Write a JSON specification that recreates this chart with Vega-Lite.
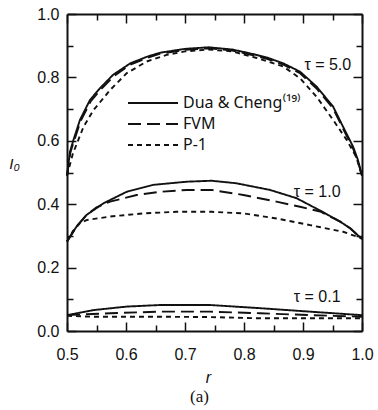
{
  "$schema": "https://vega.github.io/schema/vega-lite/v6.json",
  "width": 295,
  "height": 317,
  "autosize": {"type": "none"},
  "padding": {"left": 67, "top": 14, "right": 16, "bottom": 79},
  "background": "white",
  "title": {"text": "(a)", "orient": "bottom", "anchor": "middle", "dx": -15, "offset": 4, "font": "Liberation Serif", "fontSize": 17, "fontWeight": "normal", "color": "#111"},
  "config": {
    "view": {"stroke": null},
    "axis": {"grid": false, "domainColor": "#111", "tickColor": "#111", "labelColor": "#111", "titleColor": "#111", "labelFont": "Liberation Sans", "labelFontSize": 16, "titleFont": "Liberation Sans"}
  },
  "resolve": {"axis": {"x": "independent", "y": "independent"}},
  "data": {"values": [
    {"tau": "5.0", "method": "Dua & Cheng⁽¹⁹⁾", "r": 0.500, "I": 0.49},
    {"tau": "5.0", "method": "Dua & Cheng⁽¹⁹⁾", "r": 0.505, "I": 0.565},
    {"tau": "5.0", "method": "Dua & Cheng⁽¹⁹⁾", "r": 0.511, "I": 0.603},
    {"tau": "5.0", "method": "Dua & Cheng⁽¹⁹⁾", "r": 0.522, "I": 0.666},
    {"tau": "5.0", "method": "Dua & Cheng⁽¹⁹⁾", "r": 0.539, "I": 0.729},
    {"tau": "5.0", "method": "Dua & Cheng⁽¹⁹⁾", "r": 0.556, "I": 0.766},
    {"tau": "5.0", "method": "Dua & Cheng⁽¹⁹⁾", "r": 0.578, "I": 0.808},
    {"tau": "5.0", "method": "Dua & Cheng⁽¹⁹⁾", "r": 0.607, "I": 0.844},
    {"tau": "5.0", "method": "Dua & Cheng⁽¹⁹⁾", "r": 0.635, "I": 0.865},
    {"tau": "5.0", "method": "Dua & Cheng⁽¹⁹⁾", "r": 0.658, "I": 0.878},
    {"tau": "5.0", "method": "Dua & Cheng⁽¹⁹⁾", "r": 0.700, "I": 0.890},
    {"tau": "5.0", "method": "Dua & Cheng⁽¹⁹⁾", "r": 0.740, "I": 0.895},
    {"tau": "5.0", "method": "Dua & Cheng⁽¹⁹⁾", "r": 0.780, "I": 0.888},
    {"tau": "5.0", "method": "Dua & Cheng⁽¹⁹⁾", "r": 0.810, "I": 0.876},
    {"tau": "5.0", "method": "Dua & Cheng⁽¹⁹⁾", "r": 0.840, "I": 0.862},
    {"tau": "5.0", "method": "Dua & Cheng⁽¹⁹⁾", "r": 0.867, "I": 0.844},
    {"tau": "5.0", "method": "Dua & Cheng⁽¹⁹⁾", "r": 0.895, "I": 0.818},
    {"tau": "5.0", "method": "Dua & Cheng⁽¹⁹⁾", "r": 0.923, "I": 0.771},
    {"tau": "5.0", "method": "Dua & Cheng⁽¹⁹⁾", "r": 0.951, "I": 0.708},
    {"tau": "5.0", "method": "Dua & Cheng⁽¹⁹⁾", "r": 0.968, "I": 0.644},
    {"tau": "5.0", "method": "Dua & Cheng⁽¹⁹⁾", "r": 0.985, "I": 0.581},
    {"tau": "5.0", "method": "Dua & Cheng⁽¹⁹⁾", "r": 0.993, "I": 0.540},
    {"tau": "5.0", "method": "Dua & Cheng⁽¹⁹⁾", "r": 1.000, "I": 0.49},

    {"tau": "5.0", "method": "FVM", "r": 0.500, "I": 0.49},
    {"tau": "5.0", "method": "FVM", "r": 0.506, "I": 0.565},
    {"tau": "5.0", "method": "FVM", "r": 0.512, "I": 0.600},
    {"tau": "5.0", "method": "FVM", "r": 0.523, "I": 0.662},
    {"tau": "5.0", "method": "FVM", "r": 0.540, "I": 0.724},
    {"tau": "5.0", "method": "FVM", "r": 0.557, "I": 0.761},
    {"tau": "5.0", "method": "FVM", "r": 0.579, "I": 0.803},
    {"tau": "5.0", "method": "FVM", "r": 0.607, "I": 0.840},
    {"tau": "5.0", "method": "FVM", "r": 0.635, "I": 0.861},
    {"tau": "5.0", "method": "FVM", "r": 0.658, "I": 0.875},
    {"tau": "5.0", "method": "FVM", "r": 0.700, "I": 0.887},
    {"tau": "5.0", "method": "FVM", "r": 0.740, "I": 0.892},
    {"tau": "5.0", "method": "FVM", "r": 0.780, "I": 0.885},
    {"tau": "5.0", "method": "FVM", "r": 0.810, "I": 0.872},
    {"tau": "5.0", "method": "FVM", "r": 0.840, "I": 0.858},
    {"tau": "5.0", "method": "FVM", "r": 0.867, "I": 0.840},
    {"tau": "5.0", "method": "FVM", "r": 0.895, "I": 0.813},
    {"tau": "5.0", "method": "FVM", "r": 0.923, "I": 0.765},
    {"tau": "5.0", "method": "FVM", "r": 0.951, "I": 0.702},
    {"tau": "5.0", "method": "FVM", "r": 0.968, "I": 0.638},
    {"tau": "5.0", "method": "FVM", "r": 0.985, "I": 0.575},
    {"tau": "5.0", "method": "FVM", "r": 0.993, "I": 0.535},
    {"tau": "5.0", "method": "FVM", "r": 1.000, "I": 0.49},

    {"tau": "5.0", "method": "P-1", "r": 0.500, "I": 0.49},
    {"tau": "5.0", "method": "P-1", "r": 0.510, "I": 0.560},
    {"tau": "5.0", "method": "P-1", "r": 0.528, "I": 0.644},
    {"tau": "5.0", "method": "P-1", "r": 0.545, "I": 0.697},
    {"tau": "5.0", "method": "P-1", "r": 0.573, "I": 0.760},
    {"tau": "5.0", "method": "P-1", "r": 0.601, "I": 0.813},
    {"tau": "5.0", "method": "P-1", "r": 0.635, "I": 0.850},
    {"tau": "5.0", "method": "P-1", "r": 0.669, "I": 0.871},
    {"tau": "5.0", "method": "P-1", "r": 0.700, "I": 0.882},
    {"tau": "5.0", "method": "P-1", "r": 0.740, "I": 0.888},
    {"tau": "5.0", "method": "P-1", "r": 0.780, "I": 0.882},
    {"tau": "5.0", "method": "P-1", "r": 0.820, "I": 0.862},
    {"tau": "5.0", "method": "P-1", "r": 0.867, "I": 0.834},
    {"tau": "5.0", "method": "P-1", "r": 0.895, "I": 0.797},
    {"tau": "5.0", "method": "P-1", "r": 0.923, "I": 0.739},
    {"tau": "5.0", "method": "P-1", "r": 0.951, "I": 0.666},
    {"tau": "5.0", "method": "P-1", "r": 0.974, "I": 0.603},
    {"tau": "5.0", "method": "P-1", "r": 0.990, "I": 0.550},
    {"tau": "5.0", "method": "P-1", "r": 1.000, "I": 0.49},

    {"tau": "1.0", "method": "Dua & Cheng⁽¹⁹⁾", "r": 0.500, "I": 0.282},
    {"tau": "1.0", "method": "Dua & Cheng⁽¹⁹⁾", "r": 0.516, "I": 0.329},
    {"tau": "1.0", "method": "Dua & Cheng⁽¹⁹⁾", "r": 0.533, "I": 0.366},
    {"tau": "1.0", "method": "Dua & Cheng⁽¹⁹⁾", "r": 0.562, "I": 0.403},
    {"tau": "1.0", "method": "Dua & Cheng⁽¹⁹⁾", "r": 0.601, "I": 0.439},
    {"tau": "1.0", "method": "Dua & Cheng⁽¹⁹⁾", "r": 0.646, "I": 0.461},
    {"tau": "1.0", "method": "Dua & Cheng⁽¹⁹⁾", "r": 0.703, "I": 0.471},
    {"tau": "1.0", "method": "Dua & Cheng⁽¹⁹⁾", "r": 0.745, "I": 0.474},
    {"tau": "1.0", "method": "Dua & Cheng⁽¹⁹⁾", "r": 0.787, "I": 0.466},
    {"tau": "1.0", "method": "Dua & Cheng⁽¹⁹⁾", "r": 0.844, "I": 0.445},
    {"tau": "1.0", "method": "Dua & Cheng⁽¹⁹⁾", "r": 0.889, "I": 0.419},
    {"tau": "1.0", "method": "Dua & Cheng⁽¹⁹⁾", "r": 0.929, "I": 0.380},
    {"tau": "1.0", "method": "Dua & Cheng⁽¹⁹⁾", "r": 0.963, "I": 0.345},
    {"tau": "1.0", "method": "Dua & Cheng⁽¹⁹⁾", "r": 0.980, "I": 0.324},
    {"tau": "1.0", "method": "Dua & Cheng⁽¹⁹⁾", "r": 1.000, "I": 0.290},

    {"tau": "1.0", "method": "FVM", "r": 0.500, "I": 0.282},
    {"tau": "1.0", "method": "FVM", "r": 0.516, "I": 0.329},
    {"tau": "1.0", "method": "FVM", "r": 0.533, "I": 0.366},
    {"tau": "1.0", "method": "FVM", "r": 0.550, "I": 0.390},
    {"tau": "1.0", "method": "FVM", "r": 0.573, "I": 0.408},
    {"tau": "1.0", "method": "FVM", "r": 0.618, "I": 0.429},
    {"tau": "1.0", "method": "FVM", "r": 0.658, "I": 0.439},
    {"tau": "1.0", "method": "FVM", "r": 0.703, "I": 0.445},
    {"tau": "1.0", "method": "FVM", "r": 0.745, "I": 0.445},
    {"tau": "1.0", "method": "FVM", "r": 0.799, "I": 0.429},
    {"tau": "1.0", "method": "FVM", "r": 0.855, "I": 0.408},
    {"tau": "1.0", "method": "FVM", "r": 0.895, "I": 0.392},
    {"tau": "1.0", "method": "FVM", "r": 0.929, "I": 0.377},
    {"tau": "1.0", "method": "FVM", "r": 0.963, "I": 0.345},
    {"tau": "1.0", "method": "FVM", "r": 0.980, "I": 0.324},
    {"tau": "1.0", "method": "FVM", "r": 1.000, "I": 0.290},

    {"tau": "1.0", "method": "P-1", "r": 0.500, "I": 0.282},
    {"tau": "1.0", "method": "P-1", "r": 0.510, "I": 0.315},
    {"tau": "1.0", "method": "P-1", "r": 0.522, "I": 0.340},
    {"tau": "1.0", "method": "P-1", "r": 0.533, "I": 0.350},
    {"tau": "1.0", "method": "P-1", "r": 0.573, "I": 0.361},
    {"tau": "1.0", "method": "P-1", "r": 0.629, "I": 0.371},
    {"tau": "1.0", "method": "P-1", "r": 0.686, "I": 0.376},
    {"tau": "1.0", "method": "P-1", "r": 0.745, "I": 0.376},
    {"tau": "1.0", "method": "P-1", "r": 0.799, "I": 0.371},
    {"tau": "1.0", "method": "P-1", "r": 0.855, "I": 0.355},
    {"tau": "1.0", "method": "P-1", "r": 0.912, "I": 0.334},
    {"tau": "1.0", "method": "P-1", "r": 0.968, "I": 0.313},
    {"tau": "1.0", "method": "P-1", "r": 1.000, "I": 0.292},

    {"tau": "0.1", "method": "Dua & Cheng⁽¹⁹⁾", "r": 0.500, "I": 0.050},
    {"tau": "0.1", "method": "Dua & Cheng⁽¹⁹⁾", "r": 0.545, "I": 0.066},
    {"tau": "0.1", "method": "Dua & Cheng⁽¹⁹⁾", "r": 0.601, "I": 0.077},
    {"tau": "0.1", "method": "Dua & Cheng⁽¹⁹⁾", "r": 0.658, "I": 0.082},
    {"tau": "0.1", "method": "Dua & Cheng⁽¹⁹⁾", "r": 0.742, "I": 0.082},
    {"tau": "0.1", "method": "Dua & Cheng⁽¹⁹⁾", "r": 0.827, "I": 0.072},
    {"tau": "0.1", "method": "Dua & Cheng⁽¹⁹⁾", "r": 0.912, "I": 0.061},
    {"tau": "0.1", "method": "Dua & Cheng⁽¹⁹⁾", "r": 1.000, "I": 0.050},

    {"tau": "0.1", "method": "FVM", "r": 0.500, "I": 0.050},
    {"tau": "0.1", "method": "FVM", "r": 0.573, "I": 0.056},
    {"tau": "0.1", "method": "FVM", "r": 0.658, "I": 0.061},
    {"tau": "0.1", "method": "FVM", "r": 0.742, "I": 0.061},
    {"tau": "0.1", "method": "FVM", "r": 0.827, "I": 0.056},
    {"tau": "0.1", "method": "FVM", "r": 0.912, "I": 0.050},
    {"tau": "0.1", "method": "FVM", "r": 1.000, "I": 0.045},

    {"tau": "0.1", "method": "P-1", "r": 0.500, "I": 0.048},
    {"tau": "0.1", "method": "P-1", "r": 0.545, "I": 0.045},
    {"tau": "0.1", "method": "P-1", "r": 0.658, "I": 0.045},
    {"tau": "0.1", "method": "P-1", "r": 0.742, "I": 0.044},
    {"tau": "0.1", "method": "P-1", "r": 0.827, "I": 0.040},
    {"tau": "0.1", "method": "P-1", "r": 1.000, "I": 0.040}
  ]},
  "layer": [
    {
      "mark": {"type": "line", "color": "#111", "strokeWidth": 1.9},
      "encoding": {
        "x": {"field": "r", "type": "quantitative", "scale": {"domain": [0.5, 1.0], "nice": false, "zero": false},
          "axis": {"orient": "bottom", "values": [0.5, 0.6, 0.7, 0.8, 0.9, 1.0], "format": ".1f", "tickSize": -9, "tickWidth": 1.5, "domainWidth": 2, "labelPadding": 24, "labelFlush": false, "title": "r", "titleFontStyle": "italic", "titleFontWeight": "normal", "titleFontSize": 16, "titleX": 141, "titleY": 46, "titleBaseline": "middle"}},
        "y": {"field": "I", "type": "quantitative", "scale": {"domain": [0, 1.0], "nice": false},
          "axis": {"orient": "left", "values": [0, 0.2, 0.4, 0.6, 0.8, 1.0], "format": ".1f", "tickSize": -9, "tickWidth": 1.5, "domainWidth": 2, "labelPadding": 17, "labelFlush": false, "title": "I₀", "titleFontStyle": "italic", "titleFontWeight": "normal", "titleFontSize": 15, "titleAngle": 0, "titleX": -53, "titleY": 149, "titleAlign": "center", "titleBaseline": "middle"}},
        "strokeDash": {"field": "method", "type": "nominal",
          "scale": {"domain": ["Dua & Cheng⁽¹⁹⁾", "FVM", "P-1"], "range": [[1, 0], [13, 6], [5, 4]]},
          "legend": {"orient": "none", "legendX": 78, "legendY": 81, "title": null, "padding": 0, "symbolType": "M-5,0H5", "symbolSize": 100, "symbolStrokeWidth": 1.9, "symbolStrokeColor": "#111", "symbolFillColor": "transparent", "labelFont": "Noto Sans", "labelFontSize": 16, "labelColor": "#111", "labelOffset": 22, "rowPadding": 5}},
        "detail": {"field": "tau", "type": "nominal"}
      }
    },
    {
      "mark": {"type": "point", "opacity": 0},
      "encoding": {
        "x": {"field": "r", "type": "quantitative", "axis": {"orient": "bottom", "values": [0.55, 0.65, 0.75, 0.85, 0.95], "labels": false, "domain": false, "tickSize": -6, "tickWidth": 1.5, "title": null}},
        "y": {"field": "I", "type": "quantitative", "axis": {"orient": "left", "values": [0.1, 0.3, 0.5, 0.7, 0.9], "labels": false, "domain": false, "tickSize": -6, "tickWidth": 1.5, "title": null}}
      }
    },
    {
      "mark": {"type": "point", "opacity": 0},
      "encoding": {
        "x": {"field": "r", "type": "quantitative", "axis": {"orient": "top", "values": [0.5, 0.6, 0.7, 0.8, 0.9, 1.0], "labels": false, "domainWidth": 2, "tickSize": -9, "tickWidth": 1.5, "title": null}},
        "y": {"field": "I", "type": "quantitative", "axis": {"orient": "right", "values": [0, 0.2, 0.4, 0.6, 0.8, 1.0], "labels": false, "domainWidth": 2, "tickSize": -9, "tickWidth": 1.5, "title": null}}
      }
    },
    {
      "mark": {"type": "point", "opacity": 0},
      "encoding": {
        "x": {"field": "r", "type": "quantitative", "axis": {"orient": "top", "values": [0.55, 0.65, 0.75, 0.85, 0.95], "labels": false, "domain": false, "tickSize": -6, "tickWidth": 1.5, "title": null}},
        "y": {"field": "I", "type": "quantitative", "axis": {"orient": "right", "values": [0.1, 0.3, 0.5, 0.7, 0.9], "labels": false, "domain": false, "tickSize": -6, "tickWidth": 1.5, "title": null}}
      }
    },
    {
      "data": {"values": [
        {"label": "τ = 5.0", "r": 0.942, "I": 0.839},
        {"label": "τ = 1.0", "r": 0.924, "I": 0.439},
        {"label": "τ = 0.1", "r": 0.924, "I": 0.107}
      ]},
      "mark": {"type": "text", "font": "Liberation Sans", "fontSize": 16, "color": "#111", "align": "center", "baseline": "middle"},
      "encoding": {
        "x": {"field": "r", "type": "quantitative", "axis": null},
        "y": {"field": "I", "type": "quantitative", "axis": null},
        "text": {"field": "label"}
      }
    }
  ]
}
